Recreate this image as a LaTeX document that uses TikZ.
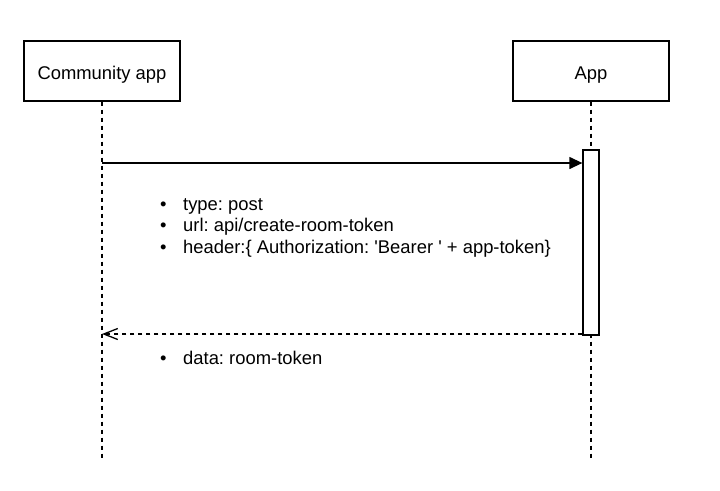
\documentclass[tikz,border=0pt]{standalone}
\usepackage{fontspec}
\setmainfont{Liberation Sans}
\usetikzlibrary{arrows.meta}
\begin{document}
\frenchspacing
\begin{tikzpicture}[x=1pt,y=-1pt,
  txt/.style={font=\fontsize{18.4}{22}\selectfont},
  actor/.style={draw, line width=1.2pt, minimum width=156pt, minimum height=60pt, inner sep=0pt, text height=17.4pt, text depth=0pt, txt},
  lifeline/.style={line width=1.2pt, dash pattern=on 4pt off 4pt},
  actbox/.style={draw, fill=white, line width=1.3pt, minimum width=16pt, minimum height=185pt, inner sep=0pt},
  msg/.style={line width=1.3pt, -{Triangle[length=13pt,width=12pt]}},
  reply/.style={line width=1.2pt, dash pattern=on 4pt off 4pt, -{Straight Barb[length=14pt,width=11pt,line width=1.3pt,sep=0pt]}},
  item/.style={anchor=base west, inner sep=0pt, txt}
]
\useasboundingbox (0,0) rectangle (720,490);
\fill[white] (0,0) rectangle (720,490);

\node[actor] (ca) at (102,71) {Community app};
\node[actor] (app) at (591,71) {App};

\coordinate (caend) at (102,459);
\coordinate (append) at (591,459);
\draw[lifeline] (ca.south) -- (caend);
\draw[lifeline] (app.south) -- (append);

\node[actbox] (act) at (591,242.5) {};

\coordinate (m1) at (102,163);
\draw[msg] (m1) -- (act.west |- m1);

\node[item] (l1) at (160,210) {\makebox[23pt][l]{\textbullet}type: post};
\node[item] (l2) at (160,231.5) {\makebox[23pt][l]{\textbullet}url: api/create-room-token};
\node[item] (l3) at (160,253) {\makebox[23pt][l]{\textbullet}header:\{ Authorization: \textquotesingle Bearer \textquotesingle{} + app-token\}};

\coordinate (m2) at (102,334);
\draw[reply] (act.south west |- m2) -- (m2);

\node[item] (l4) at (160,364.5) {\makebox[23pt][l]{\textbullet}data: room-token};
\end{tikzpicture}
\end{document}
